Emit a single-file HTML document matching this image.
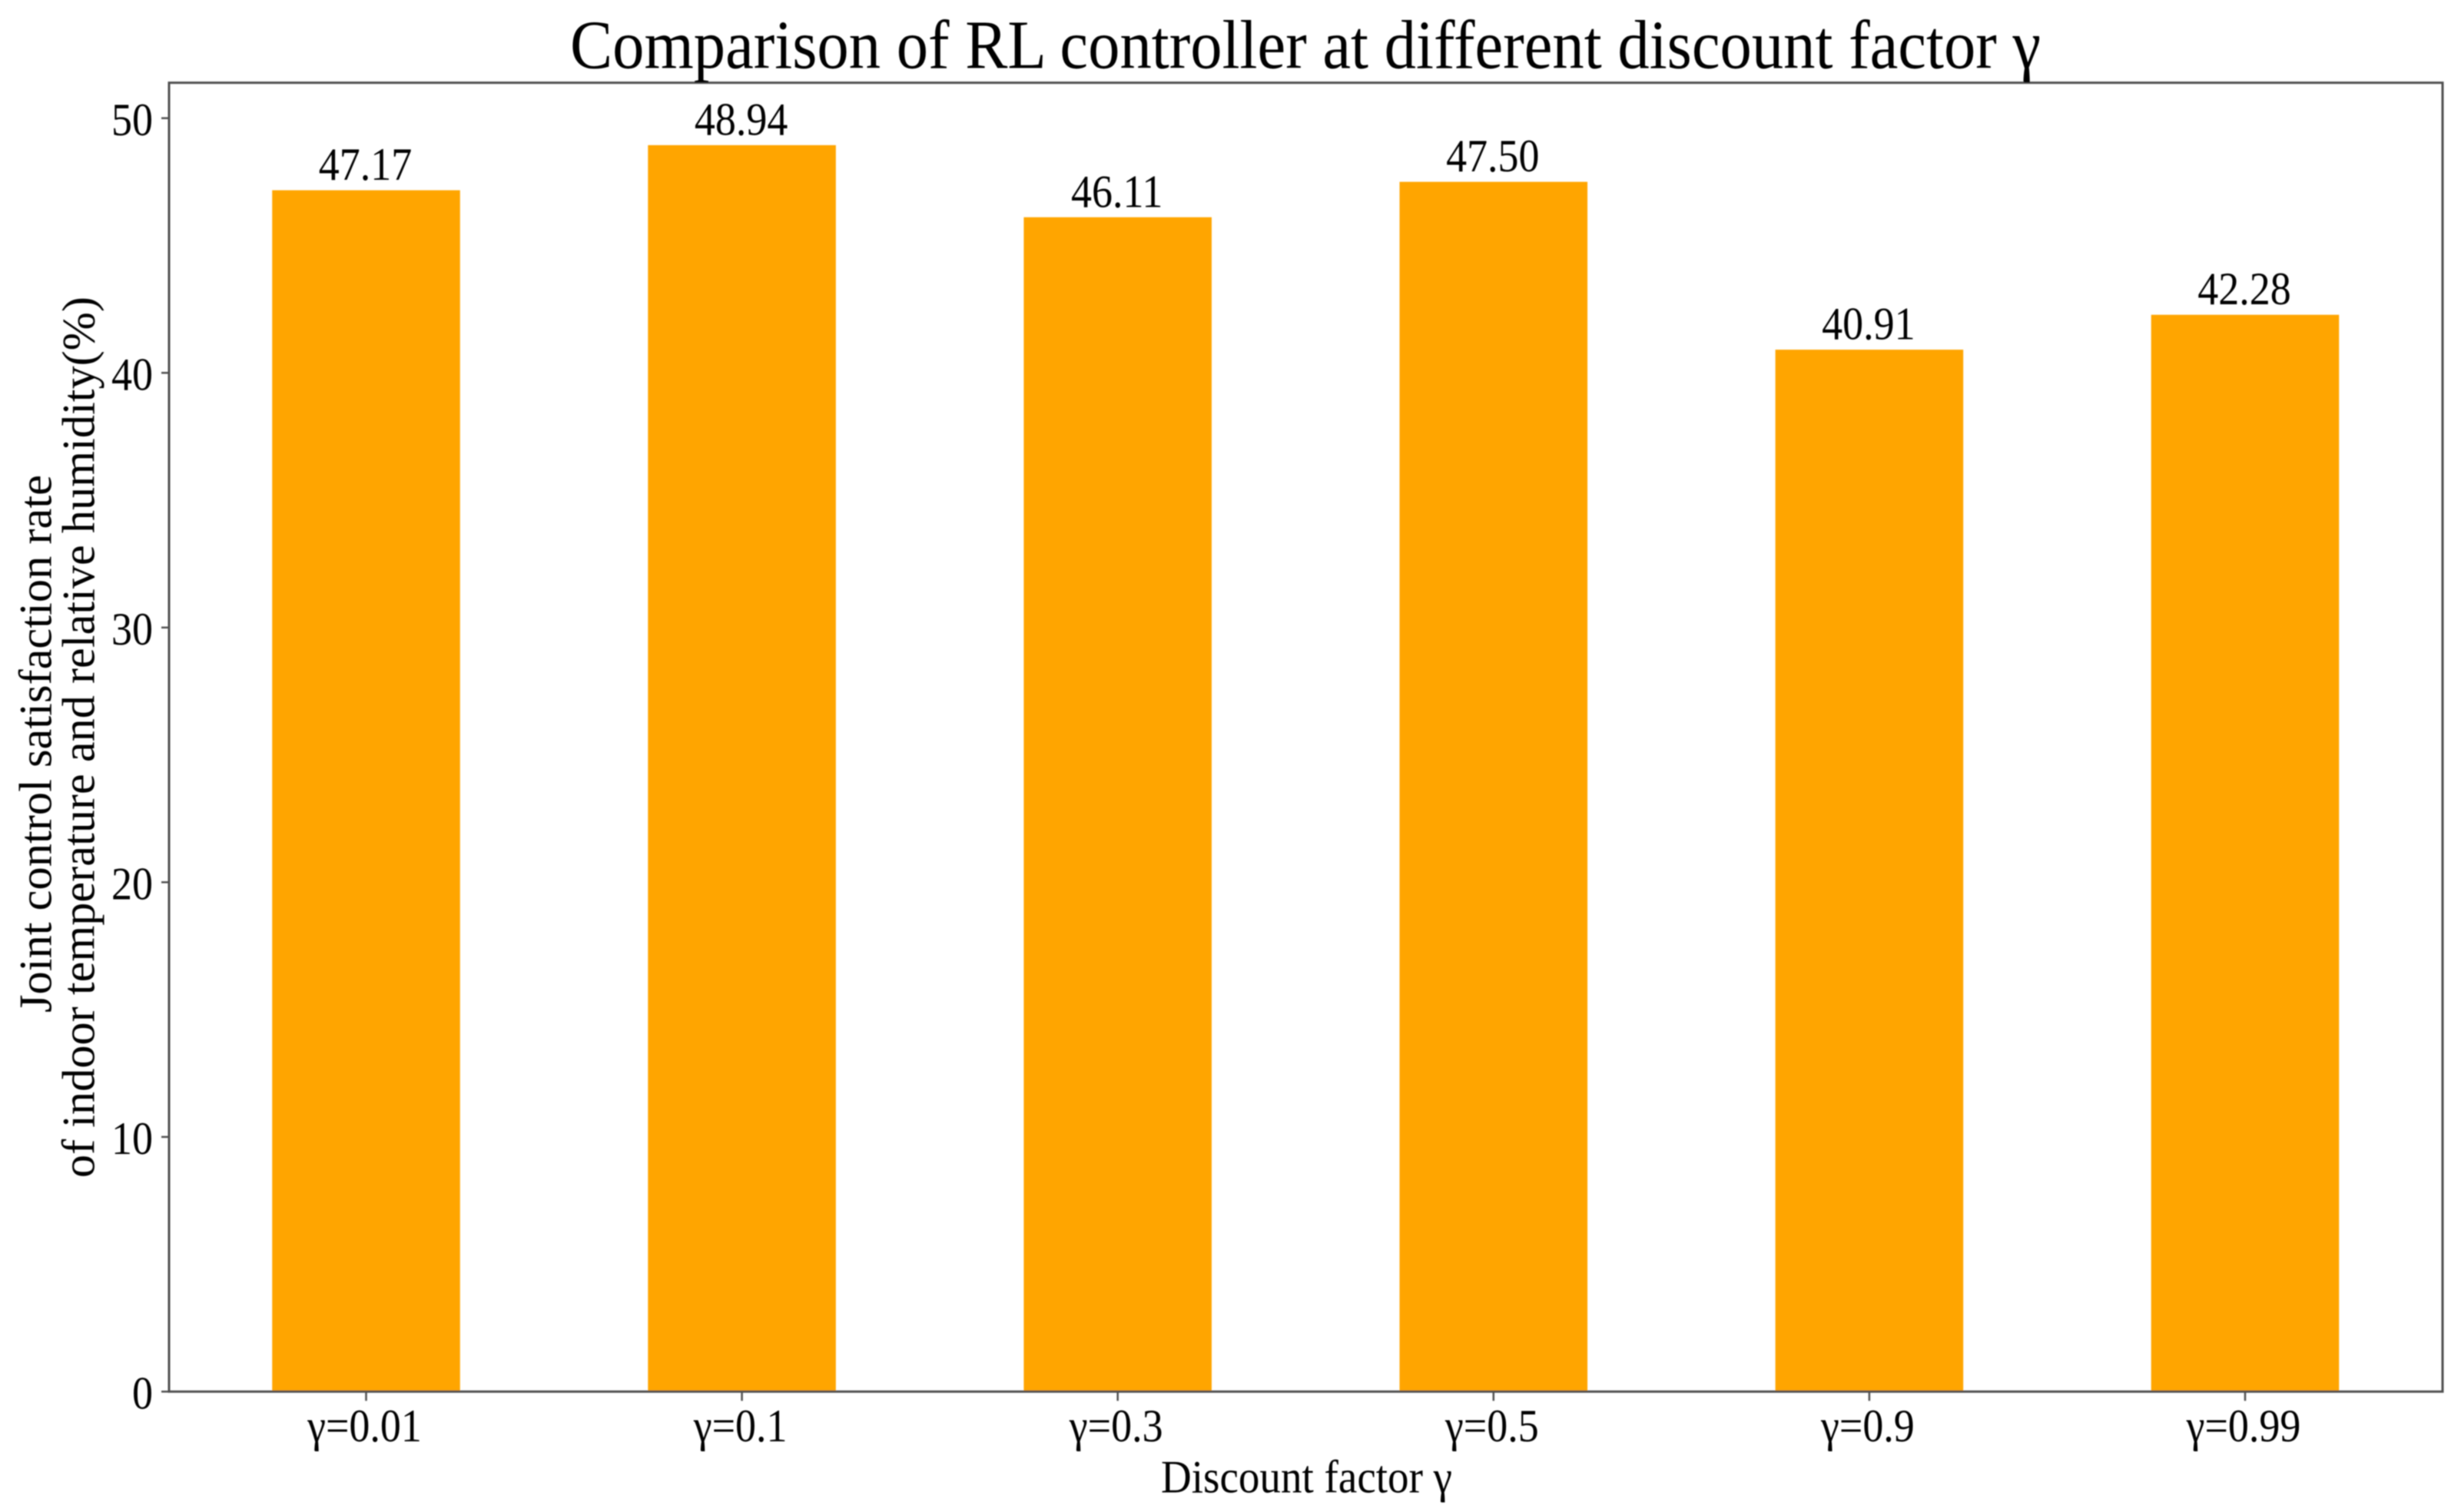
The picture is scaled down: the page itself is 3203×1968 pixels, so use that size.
<!DOCTYPE html>
<html lang="en">
<head>
<meta charset="utf-8">
<title>Comparison of RL controller at different discount factor γ</title>
<style>
html,body{margin:0;padding:0;background:#fff;width:3203px;height:1968px;overflow:hidden}
svg{display:block}
text{font-family:"Liberation Serif","Noto Serif CJK SC",serif;fill:#000}
</style>
</head>
<body>
<svg id="chart" xmlns="http://www.w3.org/2000/svg" width="3203" height="1968" viewBox="0 0 3203 1968">
  <defs>
    <filter id="soft" x="-2%" y="-2%" width="104%" height="104%"><feGaussianBlur stdDeviation="0.7"/></filter>
  </defs>
  <rect x="0" y="0" width="3203" height="1968" fill="#fff"/>
  <g id="root" filter="url(#soft)">
    <g id="bars"></g>
    <g id="xticks"></g>
    <g id="yticks"></g>
    <rect x="220" y="107.7" width="2959" height="1703.6" fill="none" stroke="#505050" stroke-width="3"/>
    <g id="values"></g>
    <text x="742" y="88.5" font-size="90" textLength="1914" lengthAdjust="spacingAndGlyphs">Comparison of RL controller at different discount factor γ</text>
    <text x="1511" y="1942.7" font-size="60" textLength="379" lengthAdjust="spacingAndGlyphs">Discount factor γ</text>
    <text transform="translate(66.5 1318) rotate(-90)" font-size="60" textLength="700" lengthAdjust="spacingAndGlyphs">Joint control satisfaction rate</text>
    <text transform="translate(122.7 1533) rotate(-90)" font-size="60" textLength="1147" lengthAdjust="spacingAndGlyphs">of indoor temperature and relative humidity(%)</text>
  </g>
</svg>
<script>
const categories = ["γ=0.01", "γ=0.1", "γ=0.3", "γ=0.5", "γ=0.9", "γ=0.99"];
const satisfactionValues = [47.17, 48.94, 46.11, 47.50, 40.91, 42.28];
const yTickValues = [0, 10, 20, 30, 40, 50];

const NS = 'http://www.w3.org/2000/svg';
const PLOT_LEFT = 220, PLOT_RIGHT = 3179, PLOT_BOTTOM = 1811.3;
const FIRST_X = 476.5, BAND = 489.1, BAR_FRACTION = 0.5;
const PX_PER_UNIT = 33.15, GLYPH_SCALE = 0.9;

function xScale(i) { return FIRST_X + i * BAND; }
function yScale(v) { return PLOT_BOTTOM - v * PX_PER_UNIT; }
function svgEl(tag, parent) {
  const el = document.createElementNS(NS, tag);
  parent.appendChild(el);
  return el;
}
function placeText(el, x, y, anchor, content) {
  el.setAttribute('transform', 'translate(' + x + ' ' + y + ') scale(' + GLYPH_SCALE + ' 1)');
  el.setAttribute('text-anchor', anchor);
  el.setAttribute('font-size', '60');
  el.textContent = content;
}

const barsG = document.getElementById('bars');
const valuesG = document.getElementById('values');
const xticksG = document.getElementById('xticks');
const yticksG = document.getElementById('yticks');

categories.forEach(function (cat, i) {
  const v = satisfactionValues[i];
  const cx = xScale(i);
  const w = BAND * BAR_FRACTION;

  const bar = svgEl('rect', barsG);
  
  
  bar.setAttribute('x', cx - w / 2);
  bar.setAttribute('y', yScale(v));
  bar.setAttribute('width', w);
  bar.setAttribute('height', PLOT_BOTTOM - yScale(v));
  bar.setAttribute('fill', '#FFA500');

  const label = svgEl('text', valuesG);
  
  
  placeText(label, cx - 1, yScale(v) - 13.5, 'middle', v.toFixed(2));

  const tick = svgEl('line', xticksG);
  
  
  tick.setAttribute('x1', cx);
  tick.setAttribute('x2', cx);
  tick.setAttribute('y1', PLOT_BOTTOM);
  tick.setAttribute('y2', PLOT_BOTTOM + 12);
  tick.setAttribute('stroke', '#505050');
  tick.setAttribute('stroke-width', '2.5');

  const tickLabel = svgEl('text', xticksG);
  
  
  placeText(tickLabel, cx - 2, 1876, 'middle', cat);
});

yTickValues.forEach(function (t) {
  const y = yScale(t);

  const tick = svgEl('line', yticksG);
  
  
  tick.setAttribute('x1', PLOT_LEFT - 10);
  tick.setAttribute('x2', PLOT_LEFT);
  tick.setAttribute('y1', y);
  tick.setAttribute('y2', y);
  tick.setAttribute('stroke', '#505050');
  tick.setAttribute('stroke-width', '2.5');

  const label = svgEl('text', yticksG);
  
  
  placeText(label, 199, y + 22, 'end', String(t));
});
</script>
</body>
</html>
